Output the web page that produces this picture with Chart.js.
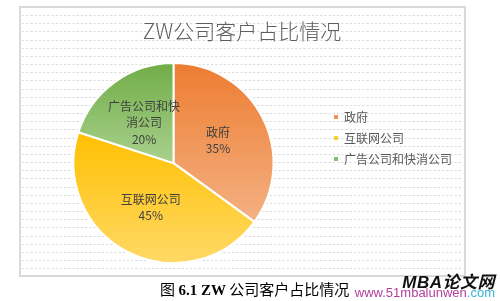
<!DOCTYPE html>
<html><head><meta charset="utf-8">
<script src="https://cdn.jsdelivr.net/npm/chart.js@4.4.1/dist/chart.umd.min.js"></script>
<style>
html,body{margin:0;padding:0;background:#fff;}
#wrap{position:relative;width:500px;height:301px;overflow:hidden;background:#fff;}
canvas{position:absolute;left:0;top:0;}
#cap{position:absolute;left:160px;top:280px;font-size:15px;line-height:17px;color:#000;font-family:"Noto Sans CJK SC";white-space:nowrap;}
#cap b{font-family:"Liberation Serif";font-weight:bold;}
#wm1{position:absolute;right:5px;top:268px;font:italic bold 17px "Liberation Sans","Noto Sans CJK SC";letter-spacing:0.5px;color:#111;white-space:nowrap;}
#wm2{position:absolute;right:5px;top:285px;font:13px "Liberation Sans";color:#b3419c;white-space:nowrap;}
#wm2 span{color:#35b6d6;}
</style></head>
<body><div id="wrap"><canvas id="c" width="500" height="301"></canvas>
<div id="cap">图 <b>6.1 ZW</b> 公司客户占比情况</div>
<div id="wm1">MBA论文网</div>
<div id="wm2">www.51mbalunwen<span>.com</span></div>
</div>
<script>
const titleText = 'ZW公司客户占比情况';
const categories = ['政府', '互联网公司', '广告公司和快消公司'];
const shares = [35, 45, 20];
const topColors = ['#ED7D31', '#FFC000', '#70AD47'];
const bottomColors = ['#F4B183', '#FFD966', '#A9D18E'];
const legendColors = ['#F0935A', '#FFCB33', '#86BD63'];
const R = 100;

function sliceGradient(ctx) {
  const chart = ctx.chart, area = chart.chartArea, i = ctx.dataIndex;
  if (!area || i === undefined) return topColors[i || 0];
  const cx = (area.left + area.right) / 2, cy = (area.top + area.bottom) / 2;
  const total = shares.reduce((a, b) => a + b, 0);
  let start = -Math.PI / 2;
  for (let k = 0; k < i; k++) start += shares[k] / total * 2 * Math.PI;
  const end = start + shares[i] / total * 2 * Math.PI;
  const ys = [cy, cy + R * Math.sin(start), cy + R * Math.sin(end)];
  [-Math.PI / 2, Math.PI / 2, 3 * Math.PI / 2].forEach(a => {
    if (a >= start && a <= end) ys.push(cy + R * Math.sin(a));
  });
  const g = chart.ctx.createLinearGradient(0, Math.min(...ys), 0, Math.max(...ys));
  g.addColorStop(0, topColors[i]);
  g.addColorStop(1, bottomColors[i]);
  return g;
}

const backdrop = {
  id: 'backdrop',
  beforeDraw(chart) {
    const ctx = chart.ctx;
    ctx.save();
    ctx.strokeStyle = '#dcdcdc';
    ctx.lineWidth = 1;
    ctx.setLineDash([2.3, 1.9]);
    for (let y = 15; y < 272; y += 8.17) {
      const yy = Math.round(y) + 0.5;
      ctx.beginPath(); ctx.moveTo(22, yy); ctx.lineTo(463, yy); ctx.stroke();
    }
    ctx.setLineDash([]);
    ctx.strokeStyle = '#d9d9d9';
    ctx.lineWidth = 2;
    ctx.strokeRect(20, 7, 445, 269);
    ctx.restore();
  }
};

function wrapText(ctx, text, maxW) {
  const out = []; let cur = '';
  for (const ch of text) {
    if (ctx.measureText(cur + ch).width > maxW && cur) { out.push(cur); cur = ch; }
    else cur += ch;
  }
  if (cur) out.push(cur);
  return out;
}

const sliceLabels = {
  id: 'sliceLabels',
  afterDatasetsDraw(chart) {
    const ctx = chart.ctx;
    const meta = chart.getDatasetMeta(0);
    ctx.save();
    ctx.font = '12px "Noto Sans CJK SC"';
    ctx.fillStyle = '#404040';
    ctx.textAlign = 'center';
    ctx.textBaseline = 'middle';
    meta.data.forEach((arc, i) => {
      const p = arc.getCenterPoint();
      const lines = wrapText(ctx, categories[i], 75).concat([shares[i] + '%']);
      const lh = 16.5;
      const y0 = p.y - (lines.length - 1) * lh / 2;
      lines.forEach((t, j) => ctx.fillText(t, p.x, y0 + j * lh));
    });
    ctx.restore();
  }
};

new Chart(document.getElementById('c'), {
  type: 'pie',
  data: {
    labels: categories,
    datasets: [{
      data: shares,
      backgroundColor: sliceGradient,
      borderColor: '#ffffff',
      borderWidth: 2,
      radius: R,
      hoverOffset: 0
    }]
  },
  options: {
    responsive: false,
    animation: false,
    events: [],
    devicePixelRatio: 1,
    layout: { padding: { left: 22, right: 38, top: 13, bottom: 38 } },
    plugins: {
      title: {
        display: true,
        text: titleText,
        color: '#5f5f5f',
        font: { family: '"Noto Sans CJK SC"', size: 21, weight: '300', lineHeight: 1.2 },
        padding: { top: 5, bottom: 20 }
      },
      legend: {
        display: true,
        position: 'right',
        labels: {
          boxWidth: 4,
          boxHeight: 4,
          padding: 9,
          color: '#595959',
          font: { family: '"Noto Sans CJK SC"', size: 12 },
          generateLabels(chart) {
            return categories.map((c, i) => ({
              text: c, fillStyle: legendColors[i], strokeStyle: legendColors[i],
              lineWidth: 0, hidden: false, index: i, fontColor: '#595959'
            }));
          }
        }
      },
      tooltip: { enabled: false }
    }
  },
  plugins: [backdrop, sliceLabels]
});
</script>
</body></html>
